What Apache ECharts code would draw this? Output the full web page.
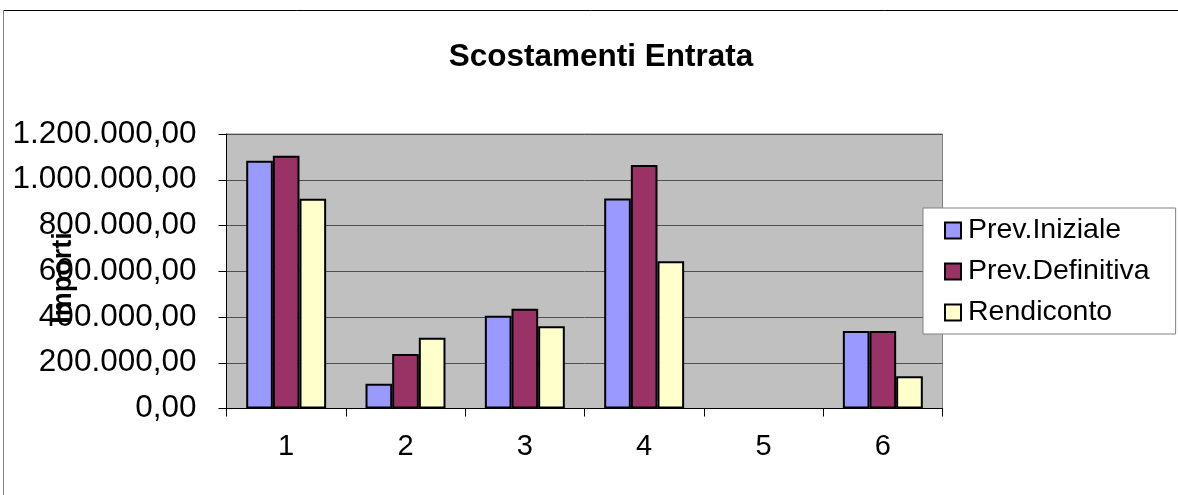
<!DOCTYPE html>
<html>
<head>
<meta charset="utf-8">
<script src="https://cdn.jsdelivr.net/npm/echarts@6/dist/echarts.min.js"></script>
<style>
html,body{margin:0;padding:0;background:#fff;}
#chart{width:1178px;height:495px;}
</style>
</head>
<body>
<div id="chart"></div>
<script>
var categories = ['1', '2', '3', '4', '5', '6'];
var prevIniziale = [1083000, 108000, 406000, 918000, 0, 339000];
var prevDefinitiva = [1105000, 238000, 436000, 1064000, 0, 339000];
var rendiconto = [917000, 309000, 360000, 644000, 0, 141000];
var seriesNames = ['Prev.Iniziale', 'Prev.Definitiva', 'Rendiconto'];
var seriesColors = ['#9999FF', '#993366', '#FFFFCC'];
var yAxisTitle = 'Importi';

var FONT = "'Liberation Sans', Arial, sans-serif";

function fmt(v) {
  var s = Math.round(v).toString();
  s = s.replace(/\B(?=(\d{3})+(?!\d))/g, '.');
  return s + ',00';
}

var chart = echarts.init(document.getElementById('chart'));
var dataSets = [prevIniziale, prevDefinitiva, rendiconto];
var series = dataSets.map(function (d, i) {
  return {
    name: seriesNames[i],
    type: 'bar',
    data: d.map(function (v) {
      return v === 0 ? { value: v, itemStyle: { borderWidth: 0 } } : v;
    }),
    barGap: '0%',
    barCategoryGap: '33%',
    itemStyle: { color: seriesColors[i], borderColor: '#000', borderWidth: 2 },
    emphasis: { disabled: true }
  };
});

chart.setOption({
  animation: false,
  backgroundColor: '#fff',
  textStyle: { fontFamily: FONT },
  title: {
    text: 'Scostamenti Entrata',
    left: 596, top: 36, textAlign: 'center',
    textStyle: { fontFamily: FONT, fontWeight: 'bold', fontSize: 31.5, color: '#000' }
  },
  graphic: [
    { type: 'line', shape: { x1: 3, y1: 10.5, x2: 1178, y2: 10.5 }, style: { stroke: '#000', lineWidth: 1 } },
    { type: 'line', shape: { x1: 3.5, y1: 10, x2: 3.5, y2: 495 }, style: { stroke: '#808080', lineWidth: 1 } },
    {
      type: 'text', x: 64, y: 278, rotation: Math.PI / 2, z: 100,
      style: {
        text: yAxisTitle, fill: '#000', font: 'bold 27px ' + FONT,
        textAlign: 'center', textVerticalAlign: 'middle', align: 'center', verticalAlign: 'middle'
      }
    }
  ],
  legend: {
    orient: 'vertical',
    left: 923, top: 208,
    padding: [7, 26, 6, 21],
    itemGap: 10,
    itemWidth: 16, itemHeight: 16,
    icon: 'rect',
    backgroundColor: '#fff',
    borderColor: '#808080', borderWidth: 1,
    itemStyle: { borderColor: '#000', borderWidth: 2 },
    textStyle: { fontFamily: FONT, fontSize: 28.5, color: '#000', lineHeight: 31, padding: [0, 0, 0, 2] },
    data: seriesNames
  },
  grid: {
    left: 226.5, right: 235.5, top: 134, bottom: 86.5,
    containLabel: false,
    outerBoundsMode: 'none',
    show: true, backgroundColor: '#C0C0C0', borderColor: '#808080', borderWidth: 1
  },
  xAxis: {
    type: 'category',
    data: categories,
    axisLine: { lineStyle: { color: '#000', width: 1 } },
    axisTick: { show: true, length: 8, lineStyle: { color: '#000' } },
    axisLabel: { fontFamily: FONT, fontSize: 29, color: '#000', margin: 24 }
  },
  yAxis: {
    type: 'value',
    min: 0, max: 1200000, interval: 200000,
    axisLine: { show: true, lineStyle: { color: '#000', width: 1 } },
    axisTick: { show: true, length: 8, lineStyle: { color: '#000' } },
    splitLine: { lineStyle: { color: '#505050', width: 1 } },
    axisLabel: { fontFamily: FONT, fontSize: 31.5, color: '#000', margin: 30, formatter: fmt }
  },
  series: series
});
</script>
</body>
</html>
